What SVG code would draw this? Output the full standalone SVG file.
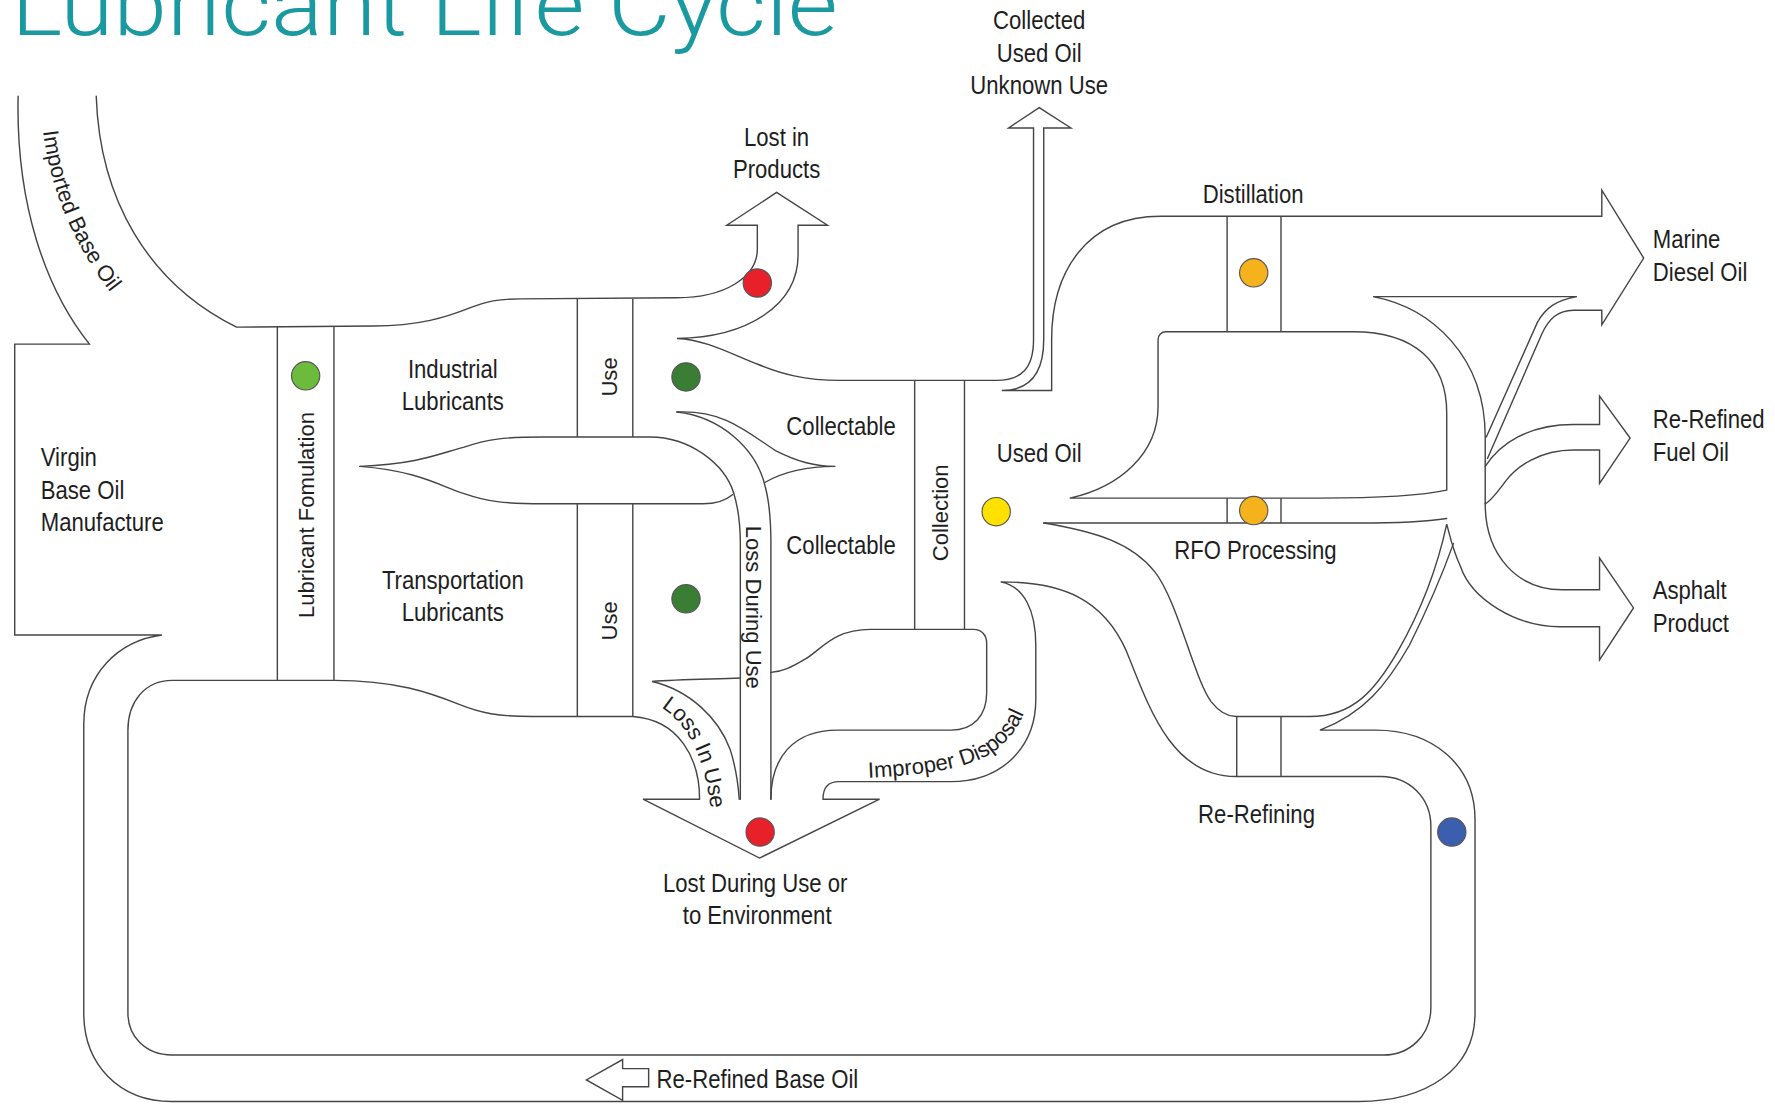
<svg xmlns="http://www.w3.org/2000/svg" width="1775" height="1106" viewBox="0 0 1775 1106">
<style>
.ln{fill:none;stroke:#454545;stroke-width:1.25;stroke-linejoin:miter;stroke-linecap:round}
.bar{fill:none;stroke:#454545;stroke-width:1.25}
.lbl{font-family:"Liberation Sans",Arial,sans-serif;font-size:23px;fill:#1e1e1e}
.mid{text-anchor:middle}
.rot{font-family:"Liberation Sans",Arial,sans-serif;font-size:19.5px;fill:#1e1e1e}
.dot{stroke:#555;stroke-width:1}
</style>
<defs>
<path id="p-imported" d="M 38,116 C 46,178 72,230 112,276"/>
<path id="p-lossinuse" d="M 584,625 C 606,639 622,665 628,716"/>
<path id="p-improper" d="M 767,687 C 812,685 850,680 873,667 C 893,655 905,637 912,606"/>
</defs>
<rect width="1775" height="1106" fill="#ffffff"/>
<g transform="scale(1.13202)">
<g id="title">
<text x="10" y="31" font-family="Roboto,'Liberation Sans',sans-serif" font-weight="300" font-size="78" fill="#1a9aa0" textLength="730" lengthAdjust="spacingAndGlyphs">Lubricant Life Cycle</text>
</g>

<g id="connectors">
<path class="ln" d="M 16,85 C 14,180 40,255 79,304 L 13,304 L 13,561 L 143,561 C 105,566 74,595 74,640 L 74,895 C 74,940 105,973 152,973 L 1200,973 C 1260,973 1303,945 1303,895 L 1303,724 C 1303,675 1265,645 1215,645 L 1166,645 C 1205,630 1225,605 1245,570 C 1265,530 1275,505 1284,480"/>
<path class="ln" d="M 85,85 C 88,175 130,250 209,289 L 330,288 C 370,288 395,280 415,272 C 430,266 440,264 460,264 L 598,263 C 640,263 669,245 669,220 L 669,199 L 642,199 L 686,170 L 731,199 L 705,199 L 705,225 C 705,270 660,298 598,299 C 625,300 650,315 670,322 C 690,330 710,336 742,336 L 880,336 C 903,336 913,325 913,300 L 913,113 L 891,113 L 918,95 L 946,113 L 922,113 L 922,300 C 922,330 910,345 885,345 L 929,345 L 929,300 C 929,240 960,191 1025,191 L 1415,191 L 1415,168 L 1452,228 L 1415,287 L 1415,274 L 1390,274 C 1376,274 1368,282 1362,295 L 1314,405"/>
<path class="ln" d="M 318,412 C 370,410 390,400 410,395 C 430,388 445,386 480,386 L 574,386 C 610,386 640,410 648,435 C 652,448 654,460 654,480 L 654,706"/>
<path class="ln" d="M 318,412 C 370,416 390,430 410,436 C 430,443 445,445 480,445 L 621,445 C 632,445 640,443 647,437"/>
<path class="ln" d="M 618,706 L 568,706 L 671,758 L 777,706 L 727,706 C 727,695 732,690.5 741,690.5 L 840,690.5 C 885,690.5 915,660 915,618 L 915,570 C 915,540 905,518 884,514 C 940,514 975,530 995,575 C 1015,625 1035,686 1092,686 L 1220,686 C 1245,686 1264,705 1264,730 L 1264,890 C 1264,915 1245,932 1222,932 L 152,932 C 128,932 113,915 113,895 L 113,645 C 113,620 128,601 152,601 L 295,601 C 350,601 380,612 405,622 C 425,630 440,633 470,633 L 559,633 C 600,636 618,670 618,706"/>
<path class="ln" d="M 598,364 C 635,368 668,395 676,430 C 680,445 681,460 681,480 L 681,706"/>
<path class="ln" d="M 598,364 C 640,362 660,382 685,398 C 705,408 720,412 738,412 C 710,412 690,418 676,426"/>
<path class="ln" d="M 654,599 C 630,600 600,600 576,602 C 610,610 635,635 645,662 C 650,678 652,690 653,706"/>
<path class="ln" d="M 681,706 C 681,670 700,645 740,645 L 840,645 C 860,645 871.6,632 871.6,612 L 871.6,568 C 871.6,561 867,556 860,556 L 769,556 C 735,556 725,575 710,583 C 700,589 692,593 681,594"/>
<path class="ln" d="M 1278,433 L 1278,365 C 1278,320 1250,293 1195,293 L 1030,293 C 1026,293 1023,296 1023,300 L 1023,359 C 1023,400 990,430 945,440 L 1166,440 C 1220,440 1260,437 1278,433"/>
<path class="ln" d="M 922,462 L 1200,462 C 1240,462 1265,460 1278,458"/>
<path class="ln" d="M 922,462 C 970,470 1000,480 1020,505 C 1040,530 1055,600 1070,620 C 1078,630 1085,633 1092,633 L 1157,633 C 1195,633 1215,610 1235,575 C 1255,540 1270,500 1278,463 C 1280,470 1283,485 1290,500 C 1300,530 1340,553.6 1378,553.6 L 1413,553.6 L 1413,583 L 1443,537 L 1413,493 L 1413,521 L 1380,521 C 1340,521 1312,490 1312,445 L 1312,386 C 1312,315 1265,272 1213,262 L 1393,262 C 1375,265 1365,272 1358,285 L 1313,386"/>
<path class="ln" d="M 1312,412 C 1325,392 1350,375 1390,375 L 1413,375 L 1413,350 L 1440,387 L 1413,427 L 1413,397.5 L 1390,397.5 C 1360,397.5 1340,412 1330,425 C 1322,436 1316,443 1312,445"/>
<path class="ln" d="M 573,944 L 550,944 L 550,936 L 518,954 L 550,972 L 550,960 L 573,960 Z"/>
</g>

<g id="virgin-base-oil">
<text class="lbl" transform="matrix(0.85 0 0 1 5.4 0)"><tspan x="36" y="412">Virgin</tspan><tspan x="36" y="440.5">Base Oil</tspan><tspan x="36" y="469">Manufacture</tspan></text>
</g>
<g id="imported-base-oil">
<text class="rot" font-size="20.5"><textPath href="#p-imported">Imported Base Oil</textPath></text>
</g>
<g id="lubricant-formulation">
<path class="bar" d="M 245,288 V 601 M 295,288 V 601"/>
<circle class="dot" cx="270" cy="332" r="12.5" fill="#6cbb3c"/>
<text class="rot mid" transform="translate(277 455) rotate(-90)" x="0" y="0">Lubricant Fomulation</text>
</g>
<g id="industrial-lubricants">
<text class="lbl mid" transform="matrix(0.85 0 0 1 60 0)"><tspan x="400" y="334">Industrial</tspan><tspan x="400" y="362.5">Lubricants</tspan></text>
</g>
<g id="transportation-lubricants">
<text class="lbl mid" transform="matrix(0.85 0 0 1 60 0)"><tspan x="400" y="520">Transportation</tspan><tspan x="400" y="548.5">Lubricants</tspan></text>
</g>
<g id="use-industrial">
<path class="bar" d="M 510,264 V 386 M 559,264 V 386"/>
<text class="rot mid" transform="translate(545 333) rotate(-90)">Use</text>
<circle class="dot" cx="606" cy="333" r="12.5" fill="#3a7d35"/>
</g>
<g id="use-transportation">
<path class="bar" d="M 510,445 V 633 M 559,445 V 633"/>
<text class="rot mid" transform="translate(545 548.5) rotate(-90)">Use</text>
<circle class="dot" cx="606" cy="529" r="12.5" fill="#3a7d35"/>
</g>
<g id="lost-in-products">
<circle class="dot" cx="669" cy="250" r="12.5" fill="#e8202a"/>
<text class="lbl mid" transform="matrix(0.85 0 0 1 102.9 0)"><tspan x="686" y="129">Lost in</tspan><tspan x="686" y="157.5">Products</tspan></text>
</g>
<g id="collectable">
<text class="lbl mid" transform="matrix(0.85 0 0 1 111.45 0)" x="743" y="384">Collectable</text>
<text class="lbl mid" transform="matrix(0.85 0 0 1 111.45 0)" x="743" y="489">Collectable</text>
</g>
<g id="loss-during-use">
<text class="rot mid" transform="translate(659 536.5) rotate(90)">Loss During Use</text>
<text class="rot" font-size="16"><textPath href="#p-lossinuse">Loss In Use</textPath></text>
</g>
<g id="lost-during-use">
<circle class="dot" cx="671.5" cy="735" r="12.5" fill="#e8202a"/>
<text class="lbl mid" transform="matrix(0.85 0 0 1 100.2 0)"><tspan x="667" y="788">Lost During Use or</tspan><tspan x="669" y="816.5">to Environment</tspan></text>
</g>
<g id="improper-disposal">
<text class="rot" font-size="20"><textPath href="#p-improper">Improper Disposal</textPath></text>
</g>
<g id="collection">
<path class="bar" d="M 808,336 V 556 M 852,336 V 556"/>
<text class="rot mid" transform="translate(837 453) rotate(-90)">Collection</text>
</g>
<g id="used-oil">
<circle class="dot" cx="880" cy="452" r="12.5" fill="#ffe100"/>
<text class="lbl mid" transform="matrix(0.85 0 0 1 137.7 0)" x="918" y="408">Used Oil</text>
</g>
<g id="collected-unknown-use">
<text class="lbl mid" transform="matrix(0.85 0 0 1 137.7 0)"><tspan x="918" y="26">Collected</tspan><tspan x="918" y="54.5">Used Oil</tspan><tspan x="918" y="83">Unknown Use</tspan></text>
</g>
<g id="distillation">
<path class="bar" d="M 1084,191 V 293 M 1131.6,191 V 293"/>
<circle class="dot" cx="1107.5" cy="241" r="12.5" fill="#f5b21c"/>
<text class="lbl mid" transform="matrix(0.85 0 0 1 166.05 0)" x="1107" y="179">Distillation</text>
</g>
<g id="rfo-processing">
<path class="bar" d="M 1084,440 V 462 M 1131.6,440 V 462"/>
<circle class="dot" cx="1107.5" cy="451" r="12.5" fill="#f5b21c"/>
<text class="lbl mid" transform="matrix(0.85 0 0 1 166.35 0)" x="1109" y="494">RFO Processing</text>
</g>
<g id="re-refining">
<path class="bar" d="M 1092.5,633 V 686 M 1131.6,633 V 686"/>
<text class="lbl mid" transform="matrix(0.85 0 0 1 166.5 0)" x="1110" y="727">Re-Refining</text>
<circle class="dot" cx="1282.5" cy="735" r="12.5" fill="#3b5fae"/>
</g>
<g id="marine-diesel-oil">
<text class="lbl" transform="matrix(0.85 0 0 1 219 0)"><tspan x="1460" y="219">Marine</tspan><tspan x="1460" y="248">Diesel Oil</tspan></text>
</g>
<g id="re-refined-fuel-oil">
<text class="lbl" transform="matrix(0.85 0 0 1 219 0)"><tspan x="1460" y="378">Re-Refined</tspan><tspan x="1460" y="407">Fuel Oil</tspan></text>
</g>
<g id="asphalt-product">
<text class="lbl" transform="matrix(0.85 0 0 1 219 0)"><tspan x="1460" y="529">Asphalt</tspan><tspan x="1460" y="558">Product</tspan></text>
</g>
<g id="re-refined-base-oil">
<text class="lbl" transform="matrix(0.85 0 0 1 87 0)" x="580" y="961">Re-Refined Base Oil</text>
</g>
</g>
</svg>
